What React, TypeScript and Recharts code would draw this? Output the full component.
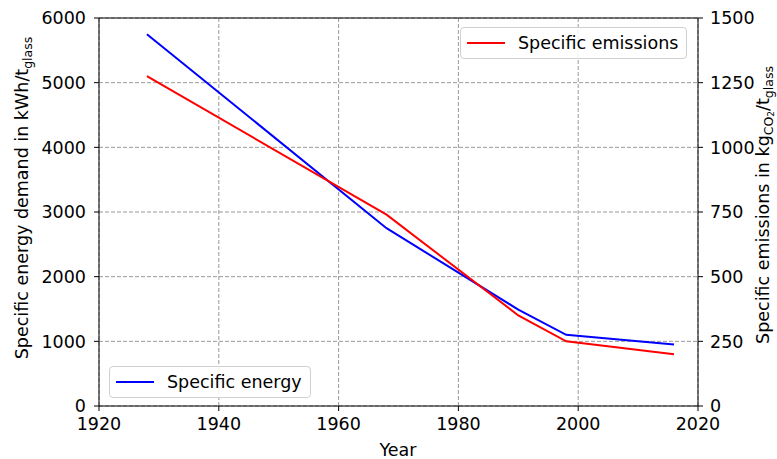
import React from 'react';
import {
  LineChart,
  Line,
  XAxis,
  YAxis,
  CartesianGrid,
  Legend,
  ReferenceLine,
} from 'recharts';

const years = [1928, 1968, 1990, 1998, 2016];
const energyValues = [5750, 2750, 1490, 1100, 950];
const emissionValues = [1275, 740, 350, 250, 200];

const xTicks = [1920, 1940, 1960, 1980, 2000, 2020];
const energyTicks = [0, 1000, 2000, 3000, 4000, 5000, 6000];
const emissionTicks = [0, 250, 500, 750, 1000, 1250, 1500];

const data = years.map((year, i) => ({
  year,
  energy: energyValues[i],
  emissions: emissionValues[i],
}));

const FONT = '"DejaVu Sans", sans-serif';
const FS = 17.5;
const SUB = 12.5;

const tickStyle = { fill: '#000', fontSize: FS, fontFamily: FONT };

// axis titles drawn by hand because of the subscripts
const LeftLabel = () => (
  <text
    x={28}
    y={198}
    transform="rotate(-90, 28, 198)"
    textAnchor="middle"
    fontFamily={FONT}
    fontSize={FS}
    fill="#000"
  >
    Specific energy demand in kWh/t
    <tspan fontSize={SUB} dy={4}>glass</tspan>
  </text>
);

const RightLabel = () => (
  <text
    x={769}
    y={205}
    transform="rotate(-90, 769, 205)"
    textAnchor="middle"
    fontFamily={FONT}
    fontSize={FS}
    fill="#000"
  >
    Specific emissions in kg
    <tspan fontSize={SUB} dy={3.5}>CO</tspan>
    <tspan fontSize={9} dy={1.5}>2</tspan>
    <tspan dy={-5}>/t</tspan>
    <tspan fontSize={SUB} dy={3.5}>glass</tspan>
  </text>
);

const YearLabel = () => (
  <text x={398} y={456} textAnchor="middle" fontFamily={FONT} fontSize={FS} fill="#000">
    Year
  </text>
);

const legendBox = (left: number, top: number, width: number, color: string, text: string) => (
  <div
    style={{
      position: 'absolute',
      left,
      top,
      width,
      height: 32,
      boxSizing: 'border-box',
      border: '1px solid #d0d0d0',
      borderRadius: 4,
      background: 'rgba(255,255,255,0.85)',
      fontFamily: FONT,
      fontSize: FS,
      color: '#000',
    }}
  >
    <div style={{ position: 'absolute', left: 6, top: 14, width: 38, height: 2, background: color }} />
    <div style={{ position: 'absolute', left: 57, top: 4, whiteSpace: 'nowrap', lineHeight: '22px' }}>{text}</div>
  </div>
);

const LegendContent = () => (
  <div style={{ position: 'relative', width: 777, height: 459 }}>
    {legendBox(460, 27, 227, '#ff0000', 'Specific emissions')}
    {legendBox(109, 366, 202, '#0000ff', 'Specific energy')}
  </div>
);

export default function App() {
  return (
    <div style={{ position: 'absolute', left: 0, top: 0, background: '#fff' }}>
      <LineChart width={777} height={459} data={data} margin={{ top: 18, right: 0, bottom: 0, left: 0 }}>
        <CartesianGrid
          yAxisId="left"
          stroke="#808080"
          strokeDasharray="4 2"
          strokeWidth={0.8}
          verticalValues={xTicks}
          horizontalValues={energyTicks}
        />
        <XAxis
          dataKey="year"
          type="number"
          domain={[1920, 2020]}
          ticks={xTicks}
          height={53}
          tick={tickStyle}
          tickSize={5}
          tickMargin={7}
          stroke="#000"
          label={<YearLabel />}
        />
        <YAxis
          yAxisId="left"
          domain={[0, 6000]}
          ticks={energyTicks}
          width={99}
          tick={tickStyle}
          tickSize={5}
          tickMargin={8}
          stroke="#000"
          label={<LeftLabel />}
        />
        <YAxis
          yAxisId="right"
          orientation="right"
          domain={[0, 1500]}
          ticks={emissionTicks}
          width={79}
          tick={tickStyle}
          tickSize={5}
          tickMargin={7}
          stroke="#000"
          label={<RightLabel />}
        />
        <ReferenceLine yAxisId="left" y={6000} stroke="#000" strokeWidth={1} />
        <Line
          yAxisId="left"
          dataKey="energy"
          name="Specific energy"
          stroke="#0000ff"
          strokeWidth={2}
          dot={false}
          isAnimationActive={false}
        />
        <Line
          yAxisId="right"
          dataKey="emissions"
          name="Specific emissions"
          stroke="#ff0000"
          strokeWidth={2}
          dot={false}
          isAnimationActive={false}
        />
        <Legend
          layout="horizontal"
          verticalAlign="middle"
          align="center"
          content={<LegendContent />}
          wrapperStyle={{ left: 0, top: 0, width: 777, height: 459, pointerEvents: 'none' }}
        />
      </LineChart>
    </div>
  );
}
